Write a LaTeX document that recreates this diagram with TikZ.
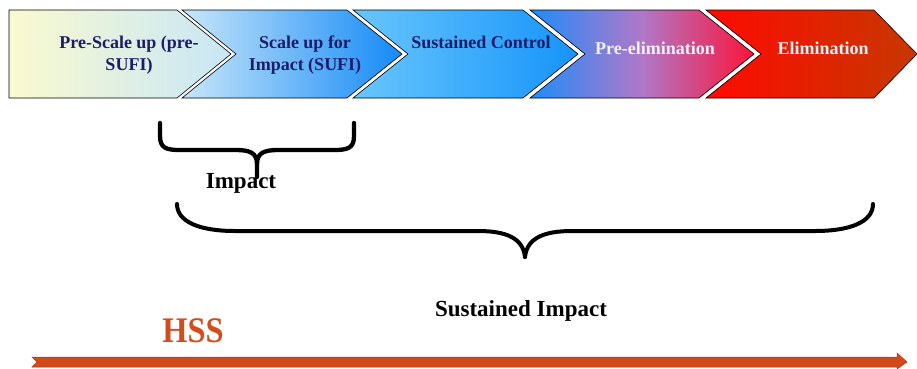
\documentclass[tikz,border=0pt]{standalone}
\usepackage{fontspec}
\setmainfont{Liberation Serif}
\usepackage{tikz}

\definecolor{navytext}{RGB}{28,28,105}
\definecolor{paletext}{RGB}{242,242,255}
\definecolor{hssorange}{RGB}{212,76,30}
\definecolor{arroworange}{RGB}{209,74,26}
\definecolor{arrowedge}{RGB}{175,55,15}

\begin{document}
\begin{tikzpicture}[x=1pt,y=-1pt,
   stage/.style={draw=black,line width=0.6pt},
   stagetext/.style={font=\fontsize{18}{22}\selectfont\bfseries,align=center},
   bracestroke/.style={line width=4.3pt,line cap=round,line join=round},
   bracetext/.style={font=\fontsize{23}{26}\selectfont\bfseries,anchor=base}]
   \useasboundingbox (0,0) rectangle (917,368);

   % the five stages
   \shadedraw[stage,left color={rgb,255:red,250;green,250;blue,208},right color={rgb,255:red,200;green,230;blue,246}]
      (  9,10) -- (177,10) -- (231,54) -- (177,98) -- (  9,98) -- cycle;
   \shadedraw[stage,left color={rgb,255:red,200;green,230;blue,250},right color={rgb,255:red,20;green,138;blue,246}]
      (182,10) -- (347,10) -- (402,54) -- (347,98) -- (182,98) -- (236,54) -- cycle;
   \shadedraw[stage,left color={rgb,255:red,105;green,198;blue,252},right color={rgb,255:red,22;green,148;blue,250}]
      (353,10) -- (523,10) -- (578,54) -- (523,98) -- (353,98) -- (408,54) -- cycle;
   \shadedraw[stage,left color={rgb,255:red,30;green,140;blue,250},right color={rgb,255:red,252;green,20;blue,58},middle color={rgb,255:red,176;green,120;blue,200}]
      (530,10) -- (699,10) -- (754,54) -- (699,98) -- (530,98) -- (585,54) -- cycle;
   \shadedraw[stage,left color={rgb,255:red,255;green,10;blue,0},right color={rgb,255:red,198;green,56;blue,0}]
      (706,10) -- (874,10) -- (917,54) -- (874,98) -- (706,98) -- (761,54) -- cycle;

   \node[stagetext,text=navytext] (prescale) at (129,55) {Pre-Scale up (pre-\\SUFI)};
   \node[stagetext,text=navytext] (scaleup)  at (305,55) {Scale up for\\Impact (SUFI)};
   \node[stagetext,text=navytext,anchor=base] (sustained) at (481,48) {Sustained Control};
   \node[stagetext,text=paletext,anchor=base] (preelim)   at (655,54) {Pre-elimination};
   \node[stagetext,text=paletext,anchor=base] (elim)      at (823,54) {Elimination};

   % braces
   \draw[bracestroke] (160,123) -- (160,136) .. controls (160,148) and (166,150) .. (180,150)
      -- (236,150) .. controls (250,150) and (257,153) .. (257,164) -- (257,177);
   \draw[bracestroke] (354,123) -- (354,136) .. controls (354,148) and (348,150) .. (334,150)
      -- (278,150) .. controls (264,150) and (257,153) .. (257,164);
   \draw[bracestroke,line width=4pt] (177,204) .. controls (177,222) and (200,231) .. (235,231)
      -- (478,231) .. controls (506,231) and (523,238) .. (525,257);
   \draw[bracestroke,line width=4pt] (873,204) .. controls (873,222) and (850,231) .. (815,231)
      -- (572,231) .. controls (544,231) and (527,238) .. (525,257);

   \node[bracetext] (impact) at (241,188) {Impact};
   \node[bracetext] (sustimpact) at (521,316) {Sustained Impact};
   \node[bracetext,text=hssorange,font=\fontsize{36}{40}\selectfont\bfseries,xscale=0.9] (hss) at (193,342) {HSS};

   % HSS arrow
   \filldraw[fill=arroworange,draw=arrowedge,line width=0.5pt]
      (32,357) -- (897,357) -- (897,353) -- (907,362) -- (897,369) -- (897,367)
      -- (32,367) -- (37,362) -- cycle;
\end{tikzpicture}
\end{document}
